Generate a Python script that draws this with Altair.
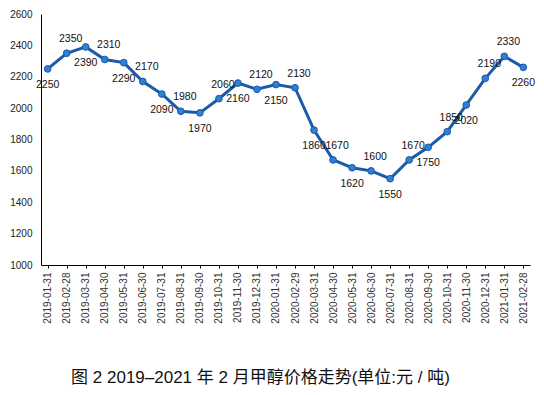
import altair as alt
import pandas as pd

dates = [
    "2019-01-31", "2019-02-28", "2019-03-31", "2019-04-30", "2019-05-31", "2019-06-30",
    "2019-07-31", "2019-08-31", "2019-09-30", "2019-10-31", "2019-11-30", "2019-12-31",
    "2020-01-31", "2020-02-29", "2020-03-31", "2020-04-30", "2020-05-31", "2020-06-30",
    "2020-07-31", "2020-08-31", "2020-09-30", "2020-10-31", "2020-11-30", "2020-12-31",
    "2021-01-31", "2021-02-28",
]
prices = [
    2250, 2350, 2390, 2310, 2290, 2170, 2090, 1980, 1970, 2060, 2160, 2120,
    2150, 2130, 1860, 1670, 1620, 1600, 1550, 1670, 1750, 1850, 2020, 2190,
    2330, 2260,
]
# label placement relative to the point
sides = ["below" if i % 2 == 0 else "above" for i in range(len(dates))]
sides[24] = "above"
sides[25] = "below"

df = pd.DataFrame({"date": dates, "price": prices, "side": sides})

title_text = "图 2  2019\u20132021 年 2 月甲醇价格走势(单位:元 / 吨)"

x = alt.X("date:O", sort=None, title=None,
          scale=alt.Scale(type="point", padding=0.35),
          axis=alt.Axis(labelAngle=-90, labelFontSize=10, labelColor="#333333",
                        labelFont="Liberation Sans", labelPadding=4,
                        tickSize=3, tickColor="#000000", domainColor="#000000",
                        labelBaseline="middle"))
y = alt.Y("price:Q", title=None,
          scale=alt.Scale(domain=[1000, 2600], nice=False, zero=False),
          axis=alt.Axis(values=list(range(1000, 2601, 200)), ticks=False, grid=False,
                        format="d",
                        labelFontSize=10, labelFont="Liberation Sans", labelColor="#222222",
                        labelPadding=9, domainColor="#000000"))

base = alt.Chart(df).encode(x=x, y=y)

line = base.mark_line(color="#1a5aa8", strokeWidth=3)
pts = base.mark_circle(color="#2f7fd6", size=45, opacity=1, stroke="#1a5aa8", strokeWidth=1)

lab_font = "Liberation Sans"
lab_above = base.transform_filter(alt.datum.side == "above").mark_text(
    dy=-14, dx=4, fontSize=10.5, font=lab_font, color="#111111"
).encode(text="price:Q")
lab_below = base.transform_filter(alt.datum.side == "below").mark_text(
    dy=16, dx=0, fontSize=10.5, font=lab_font, color="#111111"
).encode(text="price:Q")

chart = alt.layer(line, pts, lab_above, lab_below).properties(
    width=489, height=251,
    autosize=alt.AutoSizeParams(type="none"),
    padding={"left": 33, "top": 6, "right": 6, "bottom": 122},
    title=alt.TitleParams(title_text, orient="bottom", anchor="middle", fontSize=17,
                          font="Liberation Sans, Noto Sans CJK SC", fontWeight="normal",
                          color="#111111", offset=47, dx=-25),
).configure_view(stroke=None)

chart.save("out.html", embed_options={"renderer": "svg", "actions": False})
